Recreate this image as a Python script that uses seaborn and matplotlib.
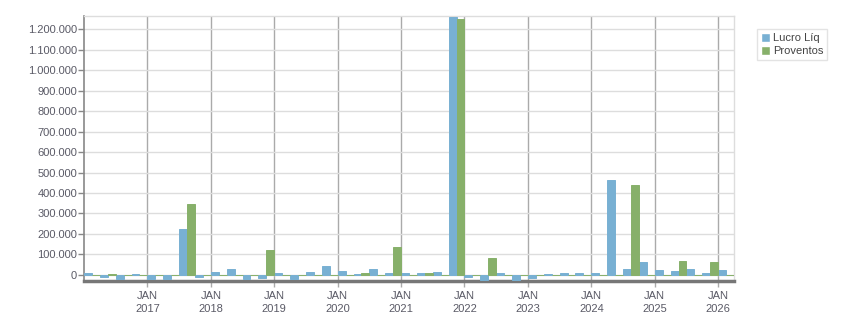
import matplotlib
matplotlib.use("Agg")
import matplotlib.pyplot as plt
import seaborn as sns
import pandas as pd
from matplotlib.ticker import FuncFormatter

quarters = [f"{y}T{q}" for y in range(2016, 2027) for q in range(1, 5)][:41]
lucro_liq = [10000, -10000, -20000, 5000, -20000, -20000, 224000, -10000,
             15000, 30000, -20000, -15000, 10000, -20000, 15000, 45000,
             20000, 5000, 30000, 10000, 10000, 10000, 15000, 1262000,
             -10000, -25000, 10000, -25000, -15000, 5000, 10000, 10000,
             10000, 463000, 30000, 65000, 25000, 20000, 30000, 10000, 25000]
proventos = [0, 3000, 0, 0, 0, 0, 346000, 0,
             0, 0, 0, 122000, 0, 0, 0, 0,
             0, 10000, 0, 138000, 0, 10000, 0, 1249000,
             0, 80000, 0, 0, 0, 0, 0, 0,
             0, 0, 440000, 0, 0, 70000, 0, 64000, 0]
year_labels = [f"JAN\n{y}" for y in range(2017, 2027)]
series_names = ["Lucro Líq", "Proventos"]
colors = ["#78B0D3", "#87B06A"]

df = pd.DataFrame({
    "quarter": quarters * 2,
    "valor": lucro_liq + proventos,
    "serie": [series_names[0]] * len(quarters) + [series_names[1]] * len(quarters),
})

sns.set_style("white")
plt.rcParams["font.family"] = ["Liberation Sans", "DejaVu Sans"]

fig = plt.figure(figsize=(8.51, 3.13), dpi=100)
ax = fig.add_axes([84 / 851, 32 / 313, (734 - 84) / 851, (281 - 16) / 313])

sns.barplot(data=df, x="quarter", y="valor", hue="serie", order=quarters,
            hue_order=series_names, palette=colors, width=1.0, gap=0,
            saturation=1, errorbar=None, ax=ax, zorder=3)

for p in ax.patches:
    p.set_edgecolor(p.get_facecolor())
    p.set_linewidth(0.7)

n = len(quarters)
ax.set_xlim(-0.5, n - 0.5)
ax.set_ylim(-30000, 1265000)

ax.set_yticks(range(0, 1200001, 100000))
ax.yaxis.set_major_formatter(FuncFormatter(lambda v, _: f"{int(v):,}".replace(",", ".")))
xt = [3.5 + 4 * i for i in range(len(year_labels))]
ax.set_xticks(xt)
ax.set_xticklabels(year_labels, linespacing=1.35)

ax.set_axisbelow(True)
ax.yaxis.grid(True, color="#DDDDDD", linewidth=1)
ax.xaxis.grid(True, color="#AAAAAA", linewidth=1)

ax.tick_params(axis="y", length=4, width=1, color="#888888", labelsize=8,
               labelcolor="#5A5A66", pad=1, left=True)
ax.tick_params(axis="x", length=4, width=1, color="#AAAAAA", labelsize=8,
               labelcolor="#5A5A66", pad=3, bottom=True)
ax.set_xlabel("")
ax.set_ylabel("")

ax.spines["left"].set_color("#888888")
ax.spines["left"].set_linewidth(1.2)
ax.spines["bottom"].set_color("#777777")
ax.spines["bottom"].set_linewidth(2.5)
ax.spines["top"].set_color("#DDDDDD")
ax.spines["right"].set_color("#DDDDDD")
ax.spines["top"].set_linewidth(1)
ax.spines["right"].set_linewidth(1)

ax.get_legend().remove()
handles = [plt.Rectangle((0, 0), 1, 1, facecolor=c) for c in colors]
leg = fig.legend(handles, series_names, loc="upper left",
                 bbox_to_anchor=(757 / 851, 1 - 29 / 313), fontsize=8,
                 frameon=True, fancybox=False, handlelength=0.8, handleheight=0.9,
                 handletextpad=0.3, labelspacing=0.2, borderpad=0.35,
                 borderaxespad=0)
leg.get_frame().set_edgecolor("#DDDDDD")
leg.get_frame().set_linewidth(1)
for t in leg.get_texts():
    t.set_color("#444444")

fig.savefig("out.png", dpi=100)
